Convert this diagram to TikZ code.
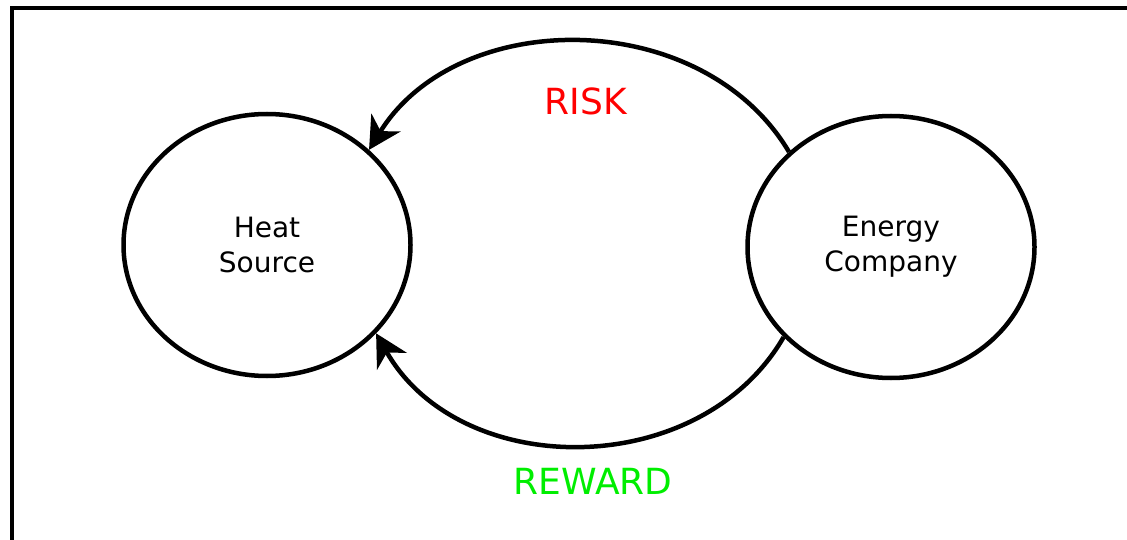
\documentclass[tikz,border=0pt]{standalone}
\usepackage{fontspec}
\setmainfont{DejaVu Sans}
\usetikzlibrary{shapes.geometric,arrows.meta}
\definecolor{riskred}{RGB}{255,0,0}
\definecolor{rewardgreen}{RGB}{0,238,0}
\tikzset{
  party/.style={draw, ellipse, line width=4.5pt, minimum width=287pt, minimum height=262pt,
    align=center, font=\fontsize{28}{35}\selectfont, inner sep=0pt},
  flow/.style={draw, line width=4.5pt, -{Stealth[length=32pt,width=34pt,inset=10pt]}},
  flowlabel/.style={font=\fontsize{36}{43}\selectfont}
}
\begin{document}
\begin{tikzpicture}[x=1pt,y=1pt]
\useasboundingbox (0,0) rectangle (1127,539);
\draw[line width=4.5pt] (12,-5) -- (12,531) -- (1135,531);
\node[party] (hs) at (267,294) {Heat\\Source};
\node[party] (ec) at (891,292) {Energy\\Company};
\draw[flow] (ec.137) .. controls (702,533) and (458,533) .. (hs.43);
\draw[flow] (ec.220) .. controls (700,57.6) and (460,57.6) .. (hs.321);
\node[flowlabel, text=riskred] (risk) at (586,438) {RISK};
\node[flowlabel, text=rewardgreen] (reward) at (593,58) {REWARD};
\end{tikzpicture}
\end{document}
